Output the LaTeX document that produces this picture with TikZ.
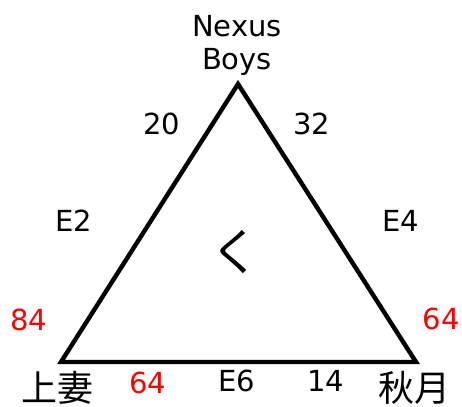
\documentclass[tikz,border=0pt]{standalone}
\usepackage{xcolor}
\usepackage{fontspec}
\setmainfont{DejaVu Sans}
\newfontfamily\jpfont{Noto Sans CJK JP}
\usepackage{tikz}

\begin{document}
\begin{tikzpicture}[
    x=1pt, y=-1pt,
    every node/.style={inner sep=0pt, align=center, font=\fontsize{29}{33}\selectfont},
    redlabel/.style={text=red},
    namelabel/.style={font=\jpfont\fontsize{36}{40}\selectfont},
    side/.style={draw, line width=4.4pt, line join=miter}
]
\useasboundingbox (0,0) rectangle (462,406);
\coordinate (top) at (238,84);
\coordinate (left) at (61,362);
\coordinate (right) at (416,362);
\draw[side] (top) -- (left) -- (right) -- cycle;

\node[anchor=north] (nexus) at (237,15) {Nexus\\Boys};
\node (kamitsuma) [namelabel] at (57,388) {上妻};
\node (akizuki) [namelabel] at (414,388) {秋月};
\node (ku) [namelabel, font=\jpfont\fontsize{50}{54}\selectfont] at (235,252) {く};

\node (e2) at (74,221) {E2};
\node (e4) at (401,221) {E4};
\node (e6) at (237,381) {E6};

\node (n20) at (162,124) {20};
\node (n32) at (312,124) {32};
\node (n14) at (326,381) {14};
\node (n84) [redlabel] at (29,320) {84};
\node (n64r) [redlabel] at (441,319) {64};
\node (n64b) [redlabel] at (148,383) {64};
\end{tikzpicture}
\end{document}
